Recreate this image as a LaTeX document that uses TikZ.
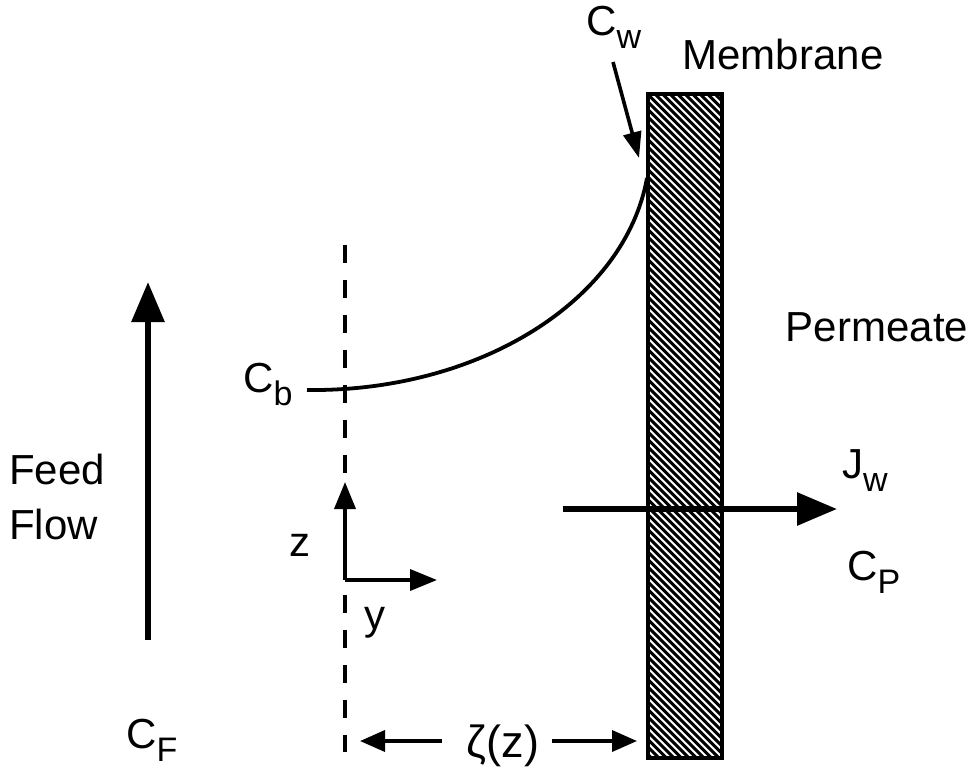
\documentclass[tikz,border=0pt]{standalone}
\usepackage{fontspec}
\setmainfont{Liberation Sans}
\usetikzlibrary{arrows.meta}
\newcommand{\lowsub}[1]{\raisebox{-13pt}{\fontsize{34}{34}\selectfont #1}}
\tikzset{
  lbl/.style={inner sep=0pt, font=\fontsize{42}{55}\selectfont},
  bigarrow/.style={line width=6pt, -{Triangle[length=40pt,width=32pt]}},
  midarrow/.style={line width=3.6pt, -{Triangle[length=27pt,width=21pt]}},
  smallarrow/.style={line width=3.6pt, -{Triangle[length=25pt,width=21pt]}},
  hatch/.style={line width=3pt},
  wall/.style={line width=3.8pt},
}
\begin{document}
\begin{tikzpicture}[x=1pt,y=-1pt]
\useasboundingbox (0,0) rectangle (976,772);
% membrane
\begin{scope}
  \clip (648,94) rectangle (722,758);
  \foreach \a in {-80,-72.5,...,730} {
    \draw[hatch] (\a,94) -- ++(720,720);
  }
\end{scope}
\draw[wall] (648,94) rectangle (722,758);
% dashed line
\coordinate (dtop) at (345,245);
\coordinate (dbot) at (345,752);
\draw[line width=3.5pt, dash pattern=on 18pt off 17pt] (dtop) -- (dbot);
% concentration curve
\coordinate (cb0) at (307,390);
\coordinate (cw0) at (647,178);
\draw[line width=3.8pt] (cb0) .. controls (480,392) and (625,300) .. (cw0);
% labels
\node[lbl, anchor=base] (mem) at (783,69) {Membrane};
\node[lbl, anchor=base] (perm) at (877,341) {Permeate};
\node[lbl, anchor=west, align=left] (feed) at (9,497) {Feed\\Flow};
\node[lbl, anchor=base west] (cf) at (126,748) {C\lowsub{F}};
\node[lbl, anchor=base west] (cb) at (243,392) {C\lowsub{b}};
\node[lbl, anchor=base west] (cw) at (586,35) {C\lowsub{w}};
\node[lbl, anchor=base west] (jw) at (842,478) {J\lowsub{w}};
\node[lbl, anchor=base west] (cp) at (847,580) {C\lowsub{P}};
\node[lbl, anchor=base] (zl) at (300,556) {z};
\node[lbl, anchor=base] (yl) at (375,629) {y};
\node[lbl, anchor=base, font=\fontsize{45}{50}\selectfont] (zeta) at (503,757) {ζ(z)};
% Cw pointer
\coordinate (cwa) at (613,62);
\coordinate (cwb) at (639,158);
\draw[line width=3.6pt, -{Triangle[length=26pt,width=18pt]}] (cwa) -- (cwb);
% feed flow arrow
\coordinate (ff0) at (148,640);
\coordinate (ff1) at (148,282);
\draw[bigarrow] (ff0) -- (ff1);
% permeate flux arrow
\coordinate (jw0) at (563,509);
\coordinate (jw1) at (837,509);
\draw[bigarrow] (jw0) -- (jw1);
% axes
\coordinate (org) at (345,580);
\coordinate (zax) at (345,482);
\coordinate (yax) at (437,580);
\draw[midarrow] (org) -- (zax);
\draw[midarrow] (org) -- (yax);
% zeta dimension
\coordinate (zl0) at (442,741);
\coordinate (zl1) at (360,741);
\coordinate (zr0) at (552,741);
\coordinate (zr1) at (637,741);
\draw[smallarrow] (zl0) -- (zl1);
\draw[smallarrow] (zr0) -- (zr1);
\end{tikzpicture}
\end{document}
